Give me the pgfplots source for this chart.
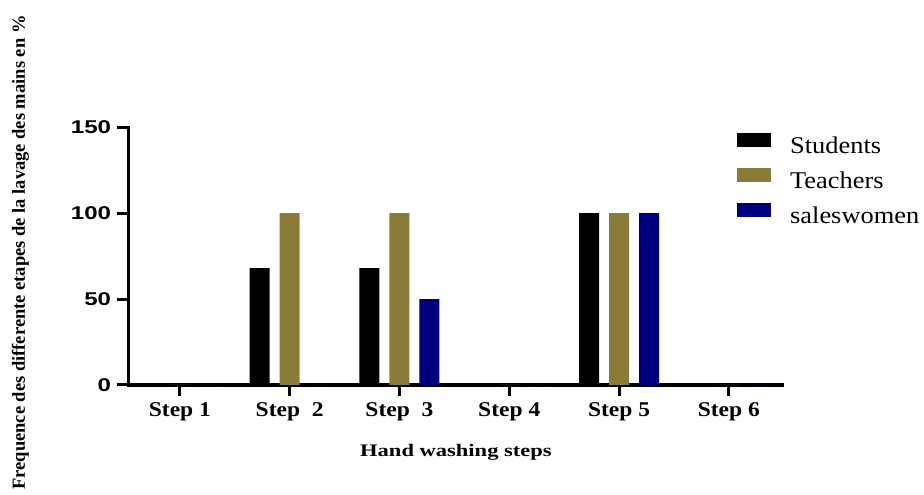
\documentclass[border=0pt]{standalone}
\usepackage{fontspec}
\usepackage{pgfplots}
\pgfplotsset{compat=1.18}
\setmainfont{Liberation Serif}
\newfontfamily\ytickfont{Liberation Sans}[FakeStretch=1.3]
\newfontfamily\xtickfont{Liberation Serif}[FakeStretch=1.12]
\newfontfamily\xlabfont{Liberation Serif}[FakeStretch=1.28]
\newfontfamily\legfont{Liberation Serif}[FakeStretch=1.1]
\definecolor{olivebar}{RGB}{139,123,58}
\definecolor{navybar}{RGB}{0,0,127}
\begin{document}
\begin{tikzpicture}
\useasboundingbox (0,0) rectangle (924pt,495pt);
\begin{axis}[
  at={(128.3pt,110pt)}, anchor=south west,
  scale only axis, width=654pt, height=257.7pt,
  axis lines*=left,
  axis line style={line width=3.5pt, line cap=rect},
  xmin=-0.47, xmax=5.487, ymin=0, ymax=150,
  ybar=10pt, bar width=20pt,
  xtick={0,1,2,3,4,5},
  xticklabels={Step 1,Step\ \ 2,Step\ \ 3,Step 4,Step 5,Step 6},
  ytick={0,50,100,150},
  yticklabels={0,50,100,150},
  tick style={line width=3pt, black},
  major tick length=11pt,
  tick align=outside,
  xticklabel style={inner sep=0pt, anchor=north, yshift=-6pt, font=\xtickfont\bfseries\fontsize{21}{24}\selectfont},
  yticklabel style={inner sep=0pt, anchor=east, xshift=-6pt, font=\ytickfont\bfseries\fontsize{18.5}{21}\selectfont},
  xlabel={Hand washing steps},
  xlabel style={at={(axis description cs:0.501,-0.261)}, anchor=center, font=\xlabfont\bfseries\fontsize{17.6}{20}\selectfont},
  ylabel={Frequence des differente etapes de la lavage des mains en \%},
  ylabel style={at={(axis description cs:-0.158,0.514)}, anchor=base, rotate=0, font=\bfseries\fontsize{18.5}{21}\selectfont},
  legend style={draw=none, fill=none, at={(axis description cs:0.9307,0.978)}, anchor=north west,
    inner sep=0pt, font=\legfont\fontsize{24}{27}\selectfont,
    nodes={inner sep=0pt, text height=17pt, text depth=6pt},
    row sep=8.4pt,
    /tikz/every odd column/.append style={column sep=19pt}},
  legend cell align=left,
  myleg/.style={legend image code/.code={\fill[##1] (0pt,1pt) rectangle (34pt,15pt);}},
  clip=false,
]
\addplot[fill=black, draw=none, myleg] coordinates {(0,0) (1,68) (2,68) (3,0) (4,100) (5,0)};
\addplot[fill=olivebar, draw=none, myleg] coordinates {(0,0) (1,100) (2,100) (3,0) (4,100) (5,0)};
\addplot[fill=navybar, draw=none, myleg] coordinates {(0,0) (1,0) (2,50) (3,0) (4,100) (5,0)};
\legend{Students,Teachers,saleswomen}
\end{axis}
\end{tikzpicture}
\end{document}
